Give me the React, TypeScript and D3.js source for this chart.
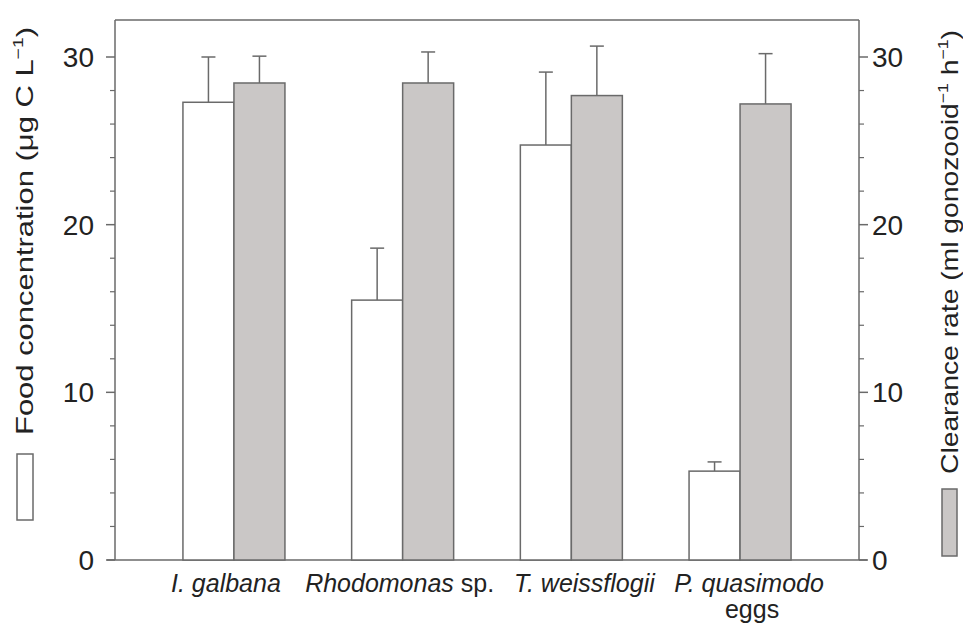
import React from 'react';
import * as d3 from 'd3';

// food concentration (white bars) and clearance rate (grey bars), same numeric scale
const categories = ['I. galbana', 'Rhodomonas sp.', 'T. weissflogii', 'P. quasimodo eggs'];
const foodConc = [27.3, 15.5, 24.75, 5.3];
const foodErr = [2.7, 3.1, 4.35, 0.55];
const clearance = [28.45, 28.45, 27.7, 27.2];
const clearanceErr = [1.6, 1.85, 2.95, 3.0];
const yTicks = [0, 10, 20, 30];

const W = 971;
const H = 632;
const left = 115;
const right = 859;
const top = 20;
const bottom = 560;
const font = 'Arial, "Liberation Sans", Helvetica, sans-serif';
const stroke = '#6a6a6a';
// labels in the original are not exactly centred under the groups
const labelShift = [-8, -3, 13, 9];

export default function App() {
  const x = d3.scalePoint<string>().domain(categories).range([left, right]).padding(0.705);
  const y = d3.scaleLinear().domain([0, 30]).range([bottom, 57]);
  const barW = 51;
  const capW = 14;
  const minor = d3.range(0, 32, 2).filter((v) => v % 10 !== 0);
  const lx = (i: number) => (x(categories[i]) as number) + labelShift[i];

  const bar = (cx: number, v: number, e: number, fill: string, key: string) => (
    <g key={key}>
      <line x1={cx + barW / 2} x2={cx + barW / 2} y1={y(v)} y2={y(v + e)} stroke={stroke} strokeWidth={1.5} />
      <line x1={cx + barW / 2 - capW / 2} x2={cx + barW / 2 + capW / 2} y1={y(v + e)} y2={y(v + e)} stroke={stroke} strokeWidth={1.5} />
      <rect x={cx} y={y(v)} width={barW} height={bottom - y(v)} fill={fill} stroke={stroke} strokeWidth={1.5} />
    </g>
  );

  return (
    <div style={{ margin: -8 }}>
      <svg width={W} height={H} style={{ display: 'block', background: '#fff' }} fontFamily={font}>
        {/* frame */}
        <line x1={left} x2={right} y1={top} y2={top} stroke={stroke} strokeWidth={1.5} />
        <line x1={left} x2={left} y1={top} y2={bottom} stroke={stroke} strokeWidth={1.5} />
        <line x1={right} x2={right} y1={top} y2={bottom} stroke={stroke} strokeWidth={1.5} />
        <line x1={left - 8} x2={right + 8} y1={bottom} y2={bottom} stroke={stroke} strokeWidth={1.5} />

        {/* ticks */}
        {yTicks.map((t) => (
          <g key={'t' + t}>
            <line x1={left - 9} x2={left} y1={y(t)} y2={y(t)} stroke={stroke} strokeWidth={1.5} />
            <line x1={right} x2={right + 9} y1={y(t)} y2={y(t)} stroke={stroke} strokeWidth={1.5} />
            <text x={94} y={y(t)} dy="0.36em" textAnchor="end" fontSize={28} fill="#222">{t}</text>
            <text x={872} y={y(t)} dy="0.36em" textAnchor="start" fontSize={28} fill="#222">{t}</text>
          </g>
        ))}
        {minor.map((t) => (
          <g key={'m' + t}>
            <line x1={left - 5} x2={left} y1={y(t)} y2={y(t)} stroke={stroke} strokeWidth={1.2} />
            <line x1={right} x2={right + 5} y1={y(t)} y2={y(t)} stroke={stroke} strokeWidth={1.2} />
          </g>
        ))}

        {/* bars */}
        {categories.map((c, i) => {
          const cx = x(c) as number;
          return (
            <g key={c}>
              {bar(cx - barW, foodConc[i], foodErr[i], '#ffffff', c + 'f')}
              {bar(cx, clearance[i], clearanceErr[i], '#cac7c6', c + 'c')}
            </g>
          );
        })}

        {/* category labels */}
        <g fontSize={25} fill="#222" textAnchor="middle">
          <text x={lx(0)} y={592} fontStyle="italic">I. galbana</text>
          <text x={lx(1)} y={592}>
            <tspan fontStyle="italic">Rhodomonas</tspan> sp.
          </text>
          <text x={lx(2)} y={592} fontStyle="italic">T. weissflogii</text>
          <text x={lx(3)} y={592} fontStyle="italic">P. quasimodo</text>
          <text x={lx(3) + 3} y={618}>eggs</text>
        </g>

        {/* left axis title with legend box */}
        <rect x={17} y={454} width={16} height={66} fill="#fff" stroke={stroke} strokeWidth={1.5} />
        <text transform="translate(33,435) rotate(-90)" fontSize={24} fill="#222" textLength={408} lengthAdjust="spacingAndGlyphs">
          Food concentration (μg C L<tspan fontSize={15} dy={-10}>−1</tspan><tspan dy={10}>)</tspan>
        </text>

        {/* right axis title with legend box */}
        <rect x={942} y={489} width={15} height={67} fill="#cac7c6" stroke={stroke} strokeWidth={1.5} />
        <text transform="translate(958,474) rotate(-90)" fontSize={24} fill="#222" textLength={444} lengthAdjust="spacingAndGlyphs">
          Clearance rate (ml gonozooid<tspan fontSize={15} dy={-10}>−1</tspan><tspan dy={10}> h</tspan><tspan fontSize={15} dy={-10}>−1</tspan><tspan dy={10}>)</tspan>
        </text>
      </svg>
    </div>
  );
}
